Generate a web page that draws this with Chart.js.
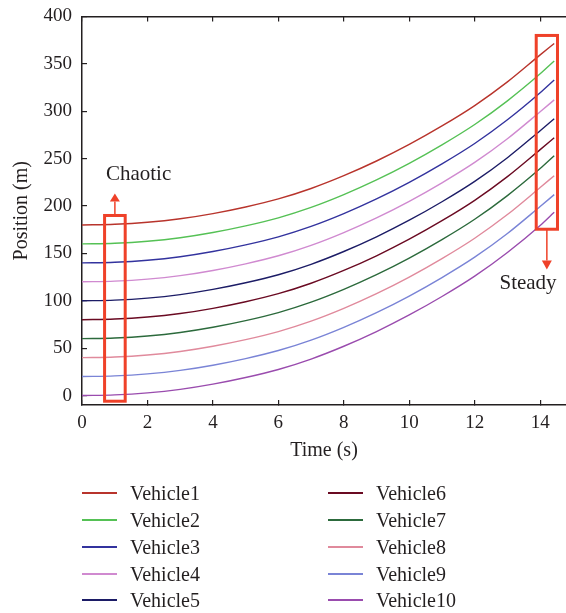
<!DOCTYPE html>
<html><head><meta charset="utf-8">
<script src="https://cdn.jsdelivr.net/npm/chart.js@4/dist/chart.umd.min.js"></script>
<style>
html,body{margin:0;padding:0;background:#fff;}
#wrap{position:relative;width:566px;height:613px;}
canvas{display:block}
#legend{position:absolute;left:0;top:0;width:566px;height:613px;pointer-events:none;font-family:"Liberation Serif",serif;font-size:20px;color:#231f20}
.item{position:absolute;height:22px;line-height:22px;white-space:nowrap}
.sw{position:absolute;width:35px;height:0;border-top:2px solid}
</style>
</head><body>
<div id="wrap"><canvas id="c" width="566" height="613"></canvas><div id="legend"></div></div>
<script>
const times = [0,1,2,3,4,5,6,7,8,9,10,11,12,13,14,14.43];
const vehicle1  = [180,180.7,182.8,186.5,192,199,207.5,218.5,232,247.5,265,284.5,306,331,359.5,371.5];
const vehicle2  = [160,160.7,162.8,166.5,172,179,187.5,198.5,212,227.5,245,264.5,286,311,339.5,353];
const vehicle3  = [140,140.7,142.8,146.5,152,159,167.5,178.5,192,207.5,225,244.5,266,291,319.5,333];
const vehicle4  = [120,120.7,122.8,126.5,132,139,147.5,158.5,172,187.5,205,224.5,246,271,299.5,312];
const vehicle5  = [100,100.7,102.8,106.5,112,119,127.5,138.5,152,167.5,185,204.5,226,251,279.5,292];
const vehicle6  = [80,80.7,82.8,86.5,92,99,107.5,118.5,132,147.5,165,184.5,206,231,259.5,272];
const vehicle7  = [60,60.7,62.8,66.5,72,79,87.5,98.5,112,127.5,145,164.5,186,211,239.5,253];
const vehicle8  = [40,40.7,42.8,46.5,52,59,67.5,78.5,92,107.5,125,144.5,166,191,219.5,232];
const vehicle9  = [20,20.7,22.8,26.5,32,39,47.5,58.5,72,87.5,105,124.5,146,171,199.5,212];
const vehicle10 = [0,0.7,2.8,6.5,12,19,27.5,38.5,52,67.5,85,104.5,126,151,179.5,193.5];
const seriesNames = ['Vehicle1','Vehicle2','Vehicle3','Vehicle4','Vehicle5','Vehicle6','Vehicle7','Vehicle8','Vehicle9','Vehicle10'];
const seriesValues = [vehicle1,vehicle2,vehicle3,vehicle4,vehicle5,vehicle6,vehicle7,vehicle8,vehicle9,vehicle10];
const xTicks = [0,2,4,6,8,10,12,14];
const yTicks = [0,50,100,150,200,250,300,350,400];

const colors = ['#b8342c','#55c155','#33339e','#d08ad0','#1c1c66','#6a0a22','#2c6a3c','#e08a9c','#7a84d6','#9a4cae'];
const TXT = '#231f20';
const FONT = {family:'"Liberation Serif", serif', size:19};
const TFONT = {family:'"Liberation Serif", serif', size:20};
const RED = '#ef4129';

const annotations = {
  boxes: [ {x0:0.69, x1:1.32, y0:-6, y1:190}, {x0:13.88, x1:14.53, y0:175.5, y1:380} ],
  arrows: [ {x:1.005, from:190, tip:213.2, head:8}, {x:14.205, from:175.5, tip:133, head:9} ],
  labels: [ {text:'Chaotic', x:1.73, y:233}, {text:'Steady', x:13.63, y:118} ]
};

const annotPlugin = {
  id:'annot',
  afterDatasetsDraw(chart){
    const {ctx, scales:{x, y}} = chart;
    ctx.save();
    ctx.strokeStyle = RED; ctx.fillStyle = RED; ctx.lineWidth = 3;
    annotations.boxes.forEach(b=>{
      const l=x.getPixelForValue(b.x0), r=x.getPixelForValue(b.x1);
      const t=y.getPixelForValue(b.y1), btm=y.getPixelForValue(b.y0);
      ctx.strokeRect(l,t,r-l,btm-t);
    });
    ctx.lineWidth = 1.5;
    annotations.arrows.forEach(a=>{
      const px=x.getPixelForValue(a.x), p0=y.getPixelForValue(a.from), p1=y.getPixelForValue(a.tip);
      const dir = p1<p0 ? -1 : 1;
      const base = p1 - dir*a.head;
      ctx.beginPath(); ctx.moveTo(px,p0); ctx.lineTo(px,base); ctx.stroke();
      ctx.beginPath(); ctx.moveTo(px-5,base); ctx.lineTo(px+5,base); ctx.lineTo(px,p1); ctx.closePath(); ctx.fill();
    });
    ctx.fillStyle = TXT; ctx.font = '21px "Liberation Serif", serif';
    ctx.textAlign='center'; ctx.textBaseline='middle';
    annotations.labels.forEach(l=>{
      ctx.fillText(l.text, x.getPixelForValue(l.x), y.getPixelForValue(l.y));
    });
    ctx.restore();
  }
};

const datasets = seriesNames.map((n,i)=>({
  label:n,
  data: times.map((t,j)=>({x:t, y:seriesValues[i][j]})),
  borderColor: colors[i], backgroundColor: colors[i],
  borderWidth:1.4, pointRadius:0, fill:false,
  cubicInterpolationMode:'monotone'
}));

const gridOpts = {drawOnChartArea:false, tickLength:-5, color:TXT, lineWidth:1.2};
const borderOpts = {color:TXT, width:1.5};

new Chart(document.getElementById('c'), {
  type:'line',
  data:{datasets},
  plugins:[annotPlugin],
  options:{
    responsive:false, animation:false, devicePixelRatio:1,
    layout:{padding:{left:0,right:0,top:0,bottom:150.6}},
    plugins:{legend:{display:false}, tooltip:{enabled:false}},
    scales:{
      x:{type:'linear', position:'bottom', min:0, max:14.79,
        afterBuildTicks:s=>{s.ticks = xTicks.map(v=>({value:v}));},
        afterFit:s=>{s.height = 57.4; s.paddingLeft = 0; s.paddingRight = 0;},
        grid:gridOpts, border:borderOpts,
        ticks:{font:FONT, color:TXT, padding:12, maxRotation:0},
        title:{display:true, text:'Time (s)', font:TFONT, color:TXT, padding:{top:0,bottom:0}}
      },
      x2:{type:'linear', position:'top', min:0, max:14.79,
        afterBuildTicks:s=>{s.ticks = xTicks.map(v=>({value:v}));},
        afterFit:s=>{s.height = 16.5; s.paddingLeft = 0; s.paddingRight = 0;},
        grid:gridOpts, border:borderOpts,
        ticks:{display:false}
      },
      y:{type:'linear', position:'left', min:-10, max:400,
        afterBuildTicks:s=>{s.ticks = yTicks.map(v=>({value:v}));},
        afterFit:s=>{s.width = 82; s.paddingTop = 0; s.paddingBottom = 0;},
        grid:gridOpts, border:borderOpts,
        ticks:{font:FONT, color:TXT, padding:15},
        title:{display:true, text:'Position (m)', font:TFONT, color:TXT, padding:{top:10,bottom:0}}
      }
    }
  }
});

// HTML legend (two columns)
const leg = document.getElementById('legend');
const colX = [[82,130],[328,376]];
const rowY = [493,520,547,574,600];
seriesNames.forEach((n,i)=>{
  const c = Math.floor(i/5), r = i%5;
  const sw = document.createElement('div');
  sw.className='sw'; sw.style.left=colX[c][0]+'px'; sw.style.top=(rowY[r]-1)+'px'; sw.style.borderTopColor=colors[i];
  leg.appendChild(sw);
  const t = document.createElement('div');
  t.className='item'; t.textContent=n; t.style.left=colX[c][1]+'px'; t.style.top=(rowY[r]-11)+'px';
  leg.appendChild(t);
});
</script>
</body></html>
